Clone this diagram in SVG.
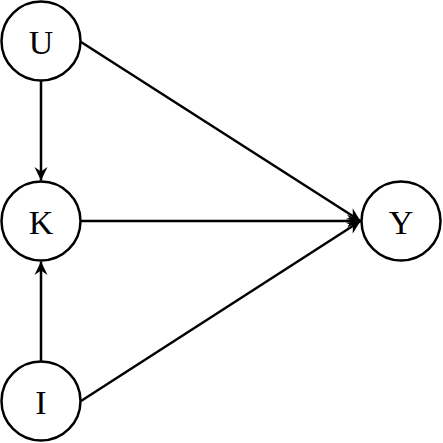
<svg xmlns="http://www.w3.org/2000/svg" width="443" height="443" viewBox="0 0 443 443">
<style>
.node circle{fill:#fff;stroke:#000;stroke-width:2.5}
.node text{font-family:"Liberation Serif","Times New Roman",serif;font-size:34px;fill:#000;text-anchor:middle;dominant-baseline:central}
.edge{stroke:#000;stroke-width:2.5;fill:none;marker-end:url(#arr)}
</style>
<defs>
<marker id="arr" markerUnits="userSpaceOnUse" viewBox="-14 -7 15 14" refX="0" refY="0" markerWidth="15" markerHeight="14" orient="auto">
<path d="M0,0 L-13.5,-6.5 L-9,0 L-13.5,6.5 Z" fill="#000"/>
</marker>
</defs>
<g id="edges">
<line class="edge" x1="41" y1="81" x2="41" y2="180.5"/>
<line class="edge" x1="41" y1="361" x2="41" y2="261.5"/>
<line class="edge" x1="81" y1="221" x2="360.5" y2="221"/>
<line class="edge" x1="81" y1="42" x2="360.5" y2="221"/>
<line class="edge" x1="81" y1="401" x2="360.5" y2="221"/>
</g>
<g id="U" class="node"><circle cx="41" cy="41" r="39.5"/><text x="41" y="42">U</text></g>
<g id="K" class="node"><circle cx="41" cy="221" r="39.5"/><text x="41" y="222">K</text></g>
<g id="I" class="node"><circle cx="41" cy="401" r="39.5"/><text x="41" y="402">I</text></g>
<g id="Y" class="node"><circle cx="401" cy="221" r="39.5"/><text x="401" y="222">Y</text></g>
</svg>
